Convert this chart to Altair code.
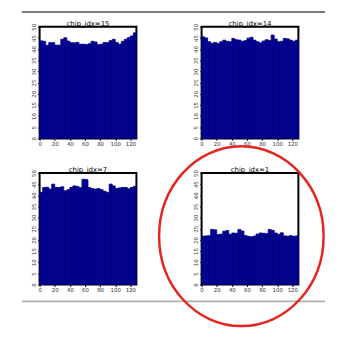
import altair as alt
import pandas as pd

# histogram bins (chip row index), 4 units wide
bin_starts = list(range(0, 128, 4))
bin_ends = [s + 4 for s in bin_starts]

titles = ["chip_idx=15", "chip_idx=14", "chip_idx=7", "chip_idx=1"]

counts_15 = [43.7, 43.5, 41.7, 42.9, 42.9, 41.8, 41.8, 44.4, 45.1, 43.6, 42.9, 42.8, 43.0, 42.2, 42.2, 42.0,
             42.4, 43.5, 43.2, 42.0, 42.2, 43.0, 42.9, 43.8, 44.4, 43.0, 42.2, 43.5, 44.4, 45.2, 45.9, 47.3]
counts_14 = [45.5, 45.0, 43.3, 42.6, 43.0, 42.5, 43.3, 44.0, 43.5, 43.3, 44.8, 44.2, 44.0, 43.5, 43.8, 44.9,
             45.3, 44.0, 43.3, 42.8, 43.6, 44.2, 43.9, 46.3, 44.5, 43.3, 43.5, 44.8, 44.6, 44.0, 43.5, 44.0]
counts_7 = [41.3, 43.5, 43.6, 42.8, 45.0, 43.5, 43.5, 43.8, 42.0, 42.5, 43.5, 44.2, 44.0, 43.4, 47.2, 47.0,
            43.5, 43.0, 42.8, 43.0, 42.5, 41.8, 41.3, 45.0, 44.2, 43.0, 43.3, 43.5, 43.5, 42.9, 43.5, 44.0]
counts_1 = [21.7, 21.8, 21.9, 24.7, 24.5, 22.4, 22.6, 23.9, 24.2, 22.5, 23.1, 23.0, 24.7, 24.0, 22.0, 21.6,
            21.4, 21.7, 22.6, 23.1, 23.0, 22.8, 24.7, 24.3, 23.1, 22.5, 23.2, 21.8, 21.7, 21.9, 21.6, 21.8]

x_ticks = [0, 20, 40, 60, 80, 100, 120]
y_ticks = [0, 5, 10, 15, 20, 25, 30, 35, 40, 45, 50]

W, H = 98, 113
one = pd.DataFrame({"a": [0]})


def panel(vals, title, extras=()):
    df = pd.DataFrame({"start": bin_starts, "end": bin_ends, "count": vals, "base": [0] * len(vals)})
    bars = alt.Chart(df).mark_rect(color="#00008b", stroke="#00008b", strokeWidth=0.8).encode(
        x=alt.X("start:Q", scale=alt.Scale(domain=[0, 128], nice=False, zero=True),
                axis=alt.Axis(values=x_ticks, title=None, labelAngle=0, labelOverlap=False,
                              labelFlush=False)),
        x2="end:Q",
        y=alt.Y("count:Q", scale=alt.Scale(domain=[0, 50], nice=False),
                axis=alt.Axis(values=y_ticks, title=None, labelAngle=270, labelOverlap=False,
                              labelFlush=False)),
        y2="base:Q",
    )
    ttl = alt.Chart(pd.DataFrame({"t": [title]})).mark_text(
        fontSize=7, font="DejaVu Sans", color="black", baseline="bottom", align="center"
    ).encode(text="t:N", x=alt.value(W / 2), y=alt.value(0))
    layers = [bars, ttl] + list(extras)
    return alt.layer(*layers).properties(width=W, height=H)


# separator lines drawn as thin filled bands (no stroke, exact bounds)
top_line = alt.Chart(one).mark_rect(color="#7a7a7a").encode(
    x=alt.value(-18), x2=alt.value(289), y=alt.value(-16), y2=alt.value(-14))
bottom_line = alt.Chart(one).mark_rect(color="#b0b0b0").encode(
    x=alt.value(-18), x2=alt.value(289), y=alt.value(129), y2=alt.value(131))
ellipse = alt.Chart(one).mark_point(
    shape="M -0.915 0 A 0.915 1 0 1 0 0.915 0 A 0.915 1 0 1 0 -0.915 0",
    size=33124, filled=False, stroke="#e5261f", strokeWidth=2.5, opacity=1).encode(
    x=alt.value(40.25), y=alt.value(64))

p1 = panel(counts_15, titles[0], [top_line])
p2 = panel(counts_14, titles[1])
p3 = panel(counts_7, titles[2], [bottom_line])
p4 = panel(counts_1, titles[3], [ellipse])

chart = alt.concat(p1, p2, p3, p4, columns=2, spacing={"row": 35, "column": 66},
                   bounds="flush").properties(
    padding={"left": 13, "top": 0, "right": 0, "bottom": 0}
).configure_view(
    stroke="black", strokeWidth=2
).configure_axis(
    domain=False, tickColor="black", tickSize=2, labelFontSize=5.5, labelColor="#333333",
    labelPadding=1, labelFont="DejaVu Sans", grid=False
)

chart.save("out.html", embed_options={"renderer": "svg", "actions": False})
